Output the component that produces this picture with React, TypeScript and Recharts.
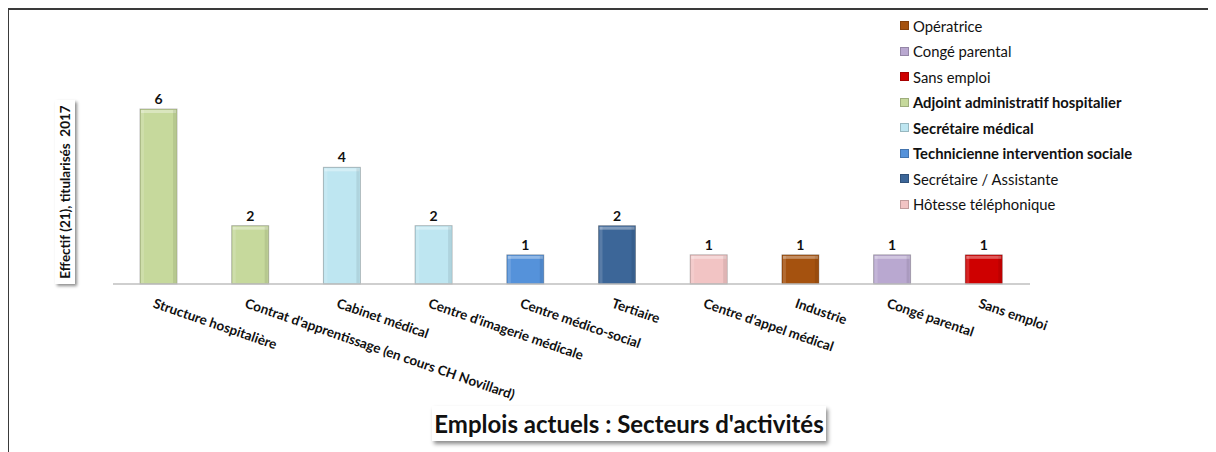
import { BarChart, Bar, XAxis, YAxis, Cell, LabelList } from "recharts"

const categories = [
  "Structure hospitalière",
  "Contrat d'apprentissage (en cours CH Novillard)",
  "Cabinet médical",
  "Centre d'imagerie médicale",
  "Centre médico-social",
  "Tertiaire",
  "Centre d'appel médical",
  "Industrie",
  "Congé parental",
  "Sans emploi",
]
const values = [6, 2, 4, 2, 1, 2, 1, 1, 1, 1]
const barColors = [
  "#C6D99C", "#C6D99C", "#BEE6F1", "#BEE6F1", "#5592DA",
  "#3C6698", "#F2C4C4", "#A5520F", "#B9A8D0", "#CF0000",
]

const legendLabels = [
  "Opératrice",
  "Congé parental",
  "Sans emploi",
  "Adjoint administratif hospitalier",
  "Secrétaire médical",
  "Technicienne intervention sociale",
  "Secrétaire / Assistante",
  "Hôtesse téléphonique",
]
const legendColors = ["#A5520F", "#B9A8D0", "#CF0000", "#C6D99C", "#BEE6F1", "#5592DA", "#3C6698", "#F2C4C4"]
const legendBold = [false, false, false, true, true, true, false, false]

const data = categories.map((name, i) => ({ name, value: values[i], color: barColors[i] }))

const FONT = "Lato, 'Open Sans', sans-serif"

// bar with a light bevel like the Excel preset
function BevelBar(props: any) {
  const { x, y, width, height, fill } = props
  if (!height || height <= 0) return null
  return (
    <g>
      <rect x={x} y={y} width={width} height={height} fill={fill} stroke="rgba(0,0,0,0.25)" strokeWidth={1} />
      <rect x={x + 1} y={y + 1} width={width - 2} height={3} fill="rgba(255,255,255,0.35)" />
      <rect x={x + 1} y={y + 1} width={3} height={height - 2} fill="rgba(255,255,255,0.15)" />
      <rect x={x + width - 4} y={y + 1} width={3} height={height - 2} fill="rgba(0,0,0,0.08)" />
    </g>
  )
}

function AngledTick(props: any) {
  const { x, y, payload } = props
  return (
    <g transform={`translate(${x - 3},${y + 5}) rotate(19)`}>
      <text x={0} y={0} dy="0.8em" textAnchor="start" fontSize={13.5} fontWeight={700} fontFamily={FONT} fill="#111">
        {payload.value}
      </text>
    </g>
  )
}

function LegendBox() {
  return (
    <div style={{ position: "absolute", left: 892, top: 5, fontFamily: FONT, fontSize: 14.8, color: "#111" }}>
      {legendLabels.map((l, i) => (
        <div key={l} style={{ display: "flex", alignItems: "center", height: 25.5, fontWeight: legendBold[i] ? 700 : 400, whiteSpace: "nowrap" }}>
          <span
            style={{
              display: "inline-block",
              width: 9,
              height: 9,
              marginRight: 4,
              background: legendColors[i],
              boxShadow: "inset 0 0 0 1px rgba(0,0,0,0.2)",
            }}
          />
          {l}
        </div>
      ))}
    </div>
  )
}

export default function App() {
  return (
    <div style={{ position: "relative", width: 1208, height: 444 }}>
      <div
        style={{
          position: "absolute",
          left: -1,
          top: 0,
          width: 1209,
          height: 444,
          borderTop: "2px solid #3a3a3a",
          borderLeft: "2px solid #3a3a3a",
          boxSizing: "border-box",
        }}
      />
      <BarChart width={1208} height={444} data={data} margin={{ top: 101, right: 186, left: 105, bottom: 68 }}>
        <XAxis
          dataKey="name"
          interval={0}
          height={100}
          tickLine={false}
          axisLine={{ stroke: "#BFBFBF", strokeWidth: 1.5 }}
          tick={<AngledTick />}
        />
        <YAxis hide domain={[0, 6]} />
        <Bar dataKey="value" barSize={37} shape={<BevelBar />} isAnimationActive={false}>
          {data.map((d) => (
            <Cell key={d.name} fill={d.color} />
          ))}
          <LabelList dataKey="value" position="top" offset={5} fontSize={14} fontWeight={700} fontFamily={FONT} fill="#111" />
        </Bar>
      </BarChart>
      <LegendBox />
      <div
        style={{
          position: "absolute",
          left: 47,
          top: 92,
          width: 20,
          height: 184,
          background: "#fff",
          boxShadow: "2px 2px 3px rgba(0,0,0,0.45)",
          display: "flex",
          alignItems: "center",
          justifyContent: "center",
        }}
      >
        <div
          style={{
            transform: "rotate(-90deg)",
            whiteSpace: "pre",
            fontFamily: FONT,
            fontSize: 13.5,
            fontWeight: 700,
            color: "#111",
          }}
        >
          {"Effectif (21), titularisés  2017"}
        </div>
      </div>
      <div
        style={{
          position: "absolute",
          left: 424,
          top: 398,
          width: 394,
          height: 35,
          background: "#fff",
          boxShadow: "2px 3px 4px rgba(0,0,0,0.45)",
          display: "flex",
          alignItems: "center",
          justifyContent: "center",
          fontFamily: FONT,
          fontSize: 24,
          fontWeight: 700,
          color: "#111",
          whiteSpace: "nowrap",
        }}
      >
        Emplois actuels : Secteurs d'activités
      </div>
    </div>
  )
}
